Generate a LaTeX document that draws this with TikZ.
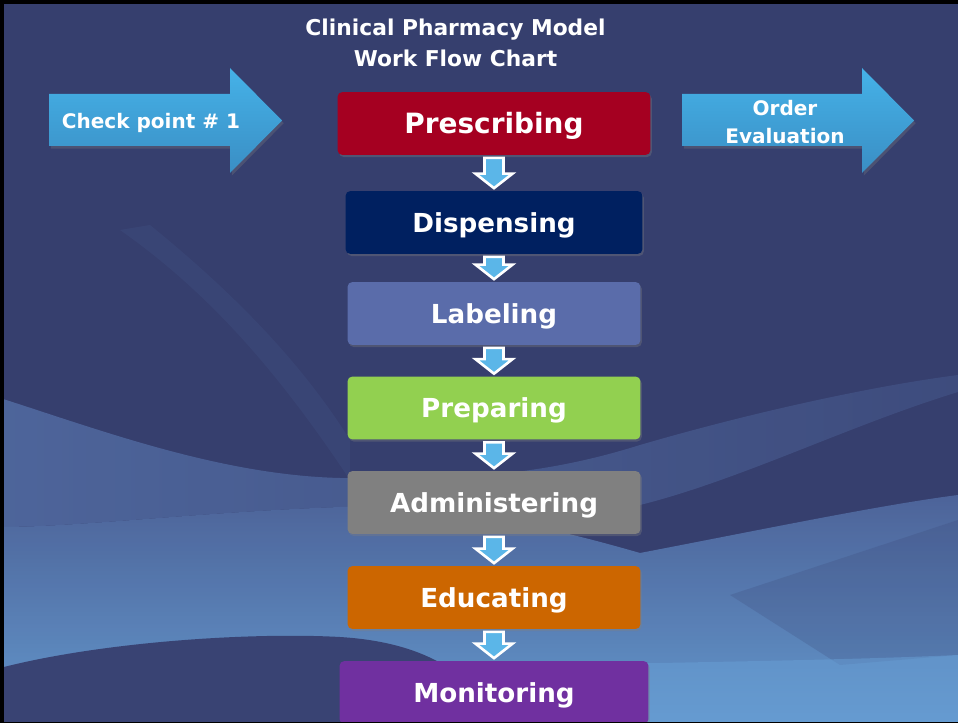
\documentclass[tikz,border=0pt]{standalone}
\usepackage{fontspec}
\setmainfont{DejaVu Sans}
\usepackage{tikz}
\usetikzlibrary{calc,shadows}
\definecolor{bgblue}{HTML}{363F6E}
\definecolor{wavemid}{HTML}{5672AA}
\definecolor{wavelight}{HTML}{68A0D6}
\definecolor{arrowtop}{HTML}{45B2E8}
\definecolor{arrowbottom}{HTML}{3A8EC4}
\definecolor{arrowlight}{HTML}{5BB6E8}
\definecolor{rxred}{HTML}{A50021}
\definecolor{dispnavy}{HTML}{002060}
\definecolor{labelblue}{HTML}{5A6CAA}
\definecolor{prepgreen}{HTML}{92D050}
\definecolor{admingray}{HTML}{808080}
\definecolor{eduorange}{HTML}{CC6600}
\definecolor{monpurple}{HTML}{7030A0}

\begin{document}
\begin{tikzpicture}[x=0.02cm,y=-0.02cm,
  stepbox/.style={rectangle,rounded corners=2.8pt,inner sep=0pt,minimum height=1.26cm,
    text=white,font=\bfseries\fontsize{14.9}{17}\selectfont,text height=10.9pt,text depth=0pt,
    drop shadow={opacity=0.35,shadow xshift=0.8pt,shadow yshift=-1.2pt}},
  downarr/.style={fill=arrowlight,draw=white,line width=1.5pt},
  bigarr/.style={top color=arrowtop,bottom color=arrowbottom,
    drop shadow={opacity=0.3,shadow xshift=1pt,shadow yshift=-1.5pt}},
  whitetext/.style={text=white,inner sep=0pt}]
  % Rahmen
  \fill[black] (0,0) rectangle (958,723);
  \begin{scope}
  \clip (4,5) rectangle (958,721);
  \fill[bgblue] (0,0) rectangle (958,723);
  % Wellen im Hintergrund
  \fill[wavemid,opacity=0.12] (150,225) .. controls (230,290) and (300,360) .. (350,440) -- (350,480) .. controls (290,390) and (220,300) .. (120,230) -- cycle;
  \shade[left color=wavemid,right color=wavemid!35!bgblue,opacity=0.75] (0,398) .. controls (100,430) and (220,475) .. (340,478) .. controls (480,482) and (560,470) .. (640,445) .. controls (760,410) and (880,385) .. (958,375)
    -- (958,392) .. controls (850,425) and (740,480) .. (640,505) .. controls (540,515) and (440,505) .. (340,507) .. controls (200,512) and (80,527) .. (0,527) -- cycle;
  \shade[top color=wavemid!80!bgblue,bottom color=wavelight,opacity=0.9] (0,527) .. controls (80,527) and (200,512) .. (340,507) .. controls (460,505) and (560,530) .. (640,553)
    .. controls (760,530) and (880,505) .. (958,495) -- (958,723) -- (0,723) -- cycle;
  \fill[bgblue,opacity=0.2] (730,595) -- (958,520) -- (958,655) -- (840,665) -- cycle;
  \fill[wavelight,opacity=0.5] (560,665) .. controls (700,662) and (850,660) .. (958,655) -- (958,723) -- (560,723) -- cycle;
  \fill[bgblue!92!wavemid] (0,668) .. controls (100,642) and (250,632) .. (340,637) .. controls (420,642) and (470,670) .. (500,723) -- (0,723) -- cycle;
  % Titel
  \node[whitetext,font=\bfseries\fontsize{12.4}{17.6}\selectfont,anchor=base] (title) at (455.5,36) {Clinical Pharmacy Model};
  \node[whitetext,font=\bfseries\fontsize{12.4}{17.6}\selectfont,anchor=base] (subtitle) at (455.5,67) {Work Flow Chart};
  % grosse Pfeile
  \path[bigarr] (49,94) -- (230,94) -- (230,68) -- (282,120.5) -- (230,173) -- (230,146) -- (49,146) -- cycle;
  \path[bigarr] (682,94) -- (862,94) -- (862,68) -- (914,120.5) -- (862,173) -- (862,146) -- (682,146) -- cycle;
  \node[whitetext,font=\bfseries\fontsize{11.4}{15.9}\selectfont,anchor=base] (check) at (151,129) {Check point \# 1};
  \node[whitetext,font=\bfseries\fontsize{11.4}{15.9}\selectfont,align=center,anchor=north] (order) at (785,100) {Order\\Evaluation};
  % Schritte
  \node[stepbox,fill=rxred,minimum width=6.26cm,font=\bfseries\fontsize{15.9}{18}\selectfont,text height=11.6pt] (presc) at (494,123.5) {Prescribing};
  \node[stepbox,fill=dispnavy,minimum width=5.94cm] (disp) at (494,222.5) {Dispensing};
  \node[stepbox,fill=labelblue,minimum width=5.86cm] (labeling) at (494,313.5) {Labeling};
  \node[stepbox,fill=prepgreen,minimum width=5.86cm] (prep) at (494,408) {Preparing};
  \node[stepbox,fill=admingray,minimum width=5.86cm] (admin) at (494,502.5) {Administering};
  \node[stepbox,fill=eduorange,minimum width=5.86cm] (edu) at (494,597.5) {Educating};
  \node[stepbox,fill=monpurple,minimum width=6.18cm] (mon) at (494,692.5) {Monitoring};
  % Pfeile zwischen den Schritten
  \foreach \a/\b in {presc/disp,disp/labeling,labeling/prep,prep/admin,admin/edu,edu/mon} {
    \draw[downarr] ($(\a.south)+(-9.5,2.5)$) -- ($(\a.south)+(9.5,2.5)$) -- ($(\b.north)+(9.5,-17)$) -- ($(\b.north)+(18.5,-17)$)
      -- ($(\b.north)+(0,-2.5)$) -- ($(\b.north)+(-18.5,-17)$) -- ($(\b.north)+(-9.5,-17)$) -- cycle;
  }
  \end{scope}
\end{tikzpicture}
\end{document}
